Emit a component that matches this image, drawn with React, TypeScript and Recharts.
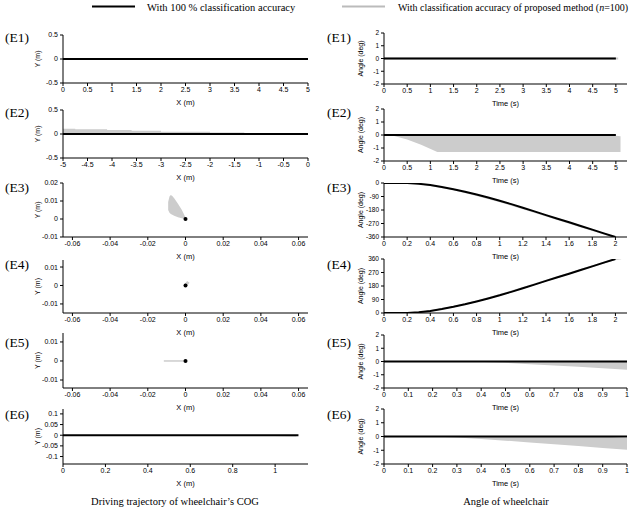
import React from "react";
import { ComposedChart, Line, Area, Scatter, XAxis, YAxis } from "recharts";

const GREY = "#cccccc";
const SANS = "'Liberation Sans', Arial, sans-serif";
const SERIF = "'Liberation Serif', 'Times New Roman', serif";

const rowLabels = ["(E1)", "(E2)", "(E3)", "(E4)", "(E5)", "(E6)"];
const rowLabelY = [37, 112, 187, 264, 342, 414];

// ---- Driving trajectory of wheelchair's COG (left column) ----
const e1PathX = [0, 5];
const e1PathY = [0, 0];

const e2PathX = [-5, 0];
const e2PathY = [0, 0];
const e2SpreadX = [-5, -4.75, -4.1, -3.6, -3.0, -2.0, -1.3, -0.6];
const e2SpreadLo = [0, 0, 0, 0, 0, 0, 0, 0];
const e2SpreadHi = [0.11, 0.1, 0.085, 0.068, 0.048, 0.03, 0.012, 0.002];

const e3SpreadX = [-0.0092, -0.0085, -0.0078, -0.007, -0.006, -0.004, -0.002, -0.001, 0];
const e3SpreadLo = [0.005, 0.0035, 0.0028, 0.0023, 0.0018, 0.001, 0.0004, 0.0001, 0];
const e3SpreadHi = [0.0095, 0.0125, 0.0134, 0.0128, 0.0115, 0.0085, 0.0052, 0.003, 0.0008];

const e4GreyX = [0, 0.0015];
const e4GreyY = [0, 0.002];

const e5GreyX = [-0.0115, 0];
const e5GreyY = [0, 0];

const origin = [{ x: 0, y: 0 }];

const e6PathX = [0, 1.11];
const e6PathY = [0, 0];
const e6SpreadX = [0.75, 0.9, 1.0, 1.1];
const e6SpreadLo = [0, -0.002, -0.004, -0.006];
const e6SpreadHi = [0, 0, 0, 0];

// ---- Angle of wheelchair (right column) ----
const a1PathX = [0, 5];
const a1PathY = [0, 0];
const a1GreyX = [0, 5.05];
const a1GreyY = [0, 0];

const a2PathX = [0, 5];
const a2PathY = [0, 0];
const a2SpreadX = [0, 0.2, 0.5, 0.8, 1.15, 5.0, 5.1];
const a2SpreadLo = [0, -0.05, -0.35, -0.75, -1.3, -1.3, -1.3];
const a2SpreadHi = [0, 0, 0, 0, 0, -0.05, -0.1];

const a3Time = [0, 0.2, 0.3, 0.4, 0.5, 0.6, 0.7, 0.8, 0.9, 1.0, 1.1, 1.2, 1.3, 1.4, 1.5, 1.6, 1.7, 1.8, 1.9, 2.0];
const a3Angle = [0, 0, -5, -14, -26, -41, -58, -77, -97, -118, -141, -165, -189, -214, -238, -262, -287, -311, -336, -360];
const a3SpreadX = [0.25, 0.4, 0.6, 0.8, 1.0, 1.2, 1.4, 1.6, 1.8, 2.0, 2.05];
const a3SpreadLo = [-4, -20, -49, -86, -128, -175, -224, -272, -320, -368, -368];
const a3SpreadHi = [-1, -12, -39, -75, -116, -163, -212, -260, -309, -356, -362];

const a4Time = [0, 0.2, 0.3, 0.4, 0.5, 0.6, 0.7, 0.8, 0.9, 1.0, 1.1, 1.2, 1.3, 1.4, 1.5, 1.6, 1.7, 1.8, 1.9, 2.0];
const a4Angle = [0, 0, 5, 14, 26, 41, 58, 77, 97, 118, 141, 165, 189, 214, 238, 262, 287, 311, 336, 360];
const a4SpreadX = [0.18, 0.3, 0.4, 0.6, 0.8, 1.0, 1.2, 1.4, 1.6, 1.8, 2.0, 2.05];
const a4SpreadLo = [0, 1, 10, 37, 73, 114, 161, 210, 258, 307, 354, 358];
const a4SpreadHi = [2, 6, 18, 47, 84, 126, 173, 222, 270, 318, 366, 366];

const a5PathX = [0, 1];
const a5PathY = [0, 0];
const a5SpreadX = [0.35, 0.5, 0.6, 0.7, 0.8, 0.9, 1.0];
const a5SpreadLo = [0, -0.1, -0.2, -0.3, -0.4, -0.5, -0.63];
const a5SpreadHi = [0, 0, 0, 0, 0, 0, 0];

const a6PathX = [0, 1];
const a6PathY = [0, 0];
const a6SpreadX = [0.2, 0.3, 0.4, 0.5, 0.6, 0.7, 0.8, 0.9, 1.0];
const a6SpreadLo = [0, -0.08, -0.18, -0.3, -0.43, -0.56, -0.69, -0.83, -0.97];
const a6SpreadHi = [0, 0, 0, 0, 0, 0, 0, 0, -0.1];

// ticks
const ticksX5 = [0, 0.5, 1, 1.5, 2, 2.5, 3, 3.5, 4, 4.5, 5];
const ticksXNeg5 = [-5, -4.5, -4, -3.5, -3, -2.5, -2, -1.5, -1, -0.5, 0];
const ticksXSmall = [-0.06, -0.04, -0.02, 0, 0.02, 0.04, 0.06];
const ticksX1 = [0, 0.2, 0.4, 0.6, 0.8, 1];
const ticksT2 = [0, 0.2, 0.4, 0.6, 0.8, 1, 1.2, 1.4, 1.6, 1.8, 2];
const ticksT1 = [0, 0.1, 0.2, 0.3, 0.4, 0.5, 0.6, 0.7, 0.8, 0.9, 1];
const ticksYHalf = [-0.5, 0, 0.5];
const ticksYE3 = [-0.01, 0, 0.01, 0.02];
const ticksYCm = [-0.01, 0, 0.01];
const ticksYE6 = [-0.1, -0.05, 0, 0.05, 0.1];
const ticksAngle2 = [-2, -1, 0, 1, 2];
const ticksAngleNeg = [-360, -270, -180, -90, 0];
const ticksAnglePos = [0, 90, 180, 270, 360];

type Series = { key: string; xs: number[]; ys: any[] };

function buildRows(series: Series[]) {
  const map = new Map<number, any>();
  series.forEach((s) =>
    s.xs.forEach((x, i) => {
      const row = map.get(x) ?? { x };
      row[s.key] = s.ys[i];
      map.set(x, row);
    })
  );
  return [...map.values()].sort((a, b) => a.x - b.x);
}

const zip = (lo: number[], hi: number[]) => lo.map((v, i) => [v, hi[i]]);

const YW = 40;
const XH = 25;
const RP = 12;

interface PanelProps {
  left: number;
  top: number;
  w: number;
  h: number;
  xDomain: [number, number];
  xTicks: number[];
  yDomain: [number, number];
  yTicks: number[];
  xLabel: string;
  yLabel: string;
  yLabelOffset: number;
  yTickSize?: number;
  rows: any[];
  bandStep?: boolean;
  greyWidth?: number;
  dot?: boolean;
}

function Panel(p: PanelProps) {
  const hasBand = p.rows.some((r) => r.band !== undefined);
  const hasGrey = p.rows.some((r) => r.grey !== undefined);
  const hasBlack = p.rows.some((r) => r.y !== undefined);
  const xTickStyle = { fontSize: 7, fill: "#000", fontFamily: SANS };
  const yTickStyle = { fontSize: p.yTickSize ?? 7, fill: "#000", fontFamily: SANS };
  return (
    <div style={{ position: "absolute", left: p.left - YW, top: p.top - 5 }}>
      <ComposedChart
        width={YW + p.w + RP}
        height={5 + p.h + XH}
        data={p.rows}
        margin={{ top: 5, right: RP, left: 0, bottom: 0 }}
      >
        <XAxis
          type="number"
          dataKey="x"
          domain={p.xDomain}
          ticks={p.xTicks}
          interval={0}
          allowDataOverflow
          height={XH}
          tickSize={3}
          tickMargin={1}
          axisLine={{ stroke: "#000" }}
          tickLine={{ stroke: "#000" }}
          tick={xTickStyle}
          label={{ value: p.xLabel, position: "insideBottom", offset: 3, fontSize: 7.5, fill: "#000", fontFamily: SANS }}
        />
        <YAxis
          type="number"
          domain={p.yDomain}
          ticks={p.yTicks}
          interval={0}
          allowDataOverflow
          width={YW}
          tickSize={3}
          tickMargin={2}
          axisLine={{ stroke: "#000" }}
          tickLine={{ stroke: "#000" }}
          tick={yTickStyle}
          label={{
            value: p.yLabel,
            angle: -90,
            position: "insideLeft",
            offset: p.yLabelOffset,
            fontSize: 7,
            fill: "#000",
            fontFamily: SANS,
            style: { textAnchor: "middle" },
          }}
        />
        {hasBand && (
          <Area
            dataKey="band"
            type={p.bandStep ? "stepAfter" : "linear"}
            fill={GREY}
            fillOpacity={1}
            stroke="none"
            connectNulls
            isAnimationActive={false}
          />
        )}
        {hasGrey && (
          <Line
            dataKey="grey"
            stroke={GREY}
            strokeWidth={p.greyWidth ?? 2}
            dot={false}
            connectNulls
            isAnimationActive={false}
          />
        )}
        {hasBlack && (
          <Line dataKey="y" stroke="#000" strokeWidth={2} dot={false} connectNulls isAnimationActive={false} />
        )}
        {p.dot && (
          <Scatter
            data={origin}
            dataKey="y"
            isAnimationActive={false}
            shape={(s: any) => <circle cx={s.cx} cy={s.cy} r={2} fill="#000" />}
          />
        )}
      </ComposedChart>
    </div>
  );
}

const LX = 63;
const LW = 245;
const RX = 384;
const RW = 243;

export default function App() {
  return (
    <div style={{ position: "absolute", left: 0, top: 0, width: 638, height: 512, background: "#fff" }}>
      <svg width={638} height={512} style={{ position: "absolute", left: 0, top: 0 }}>
        <line x1={92} x2={135} y1={6.5} y2={6.5} stroke="#000" strokeWidth={2} />
        <text x={147} y={7} fontSize={10.5} fontFamily={SERIF} dominantBaseline="central">
          With 100 % classification accuracy
        </text>
        <line x1={342} x2={385} y1={6.5} y2={6.5} stroke="#bbbbbb" strokeWidth={2} />
        <text x={398} y={7} fontSize={10} fontFamily={SERIF} dominantBaseline="central">
          With classification accuracy of proposed method (<tspan fontStyle="italic">n</tspan>=100)
        </text>
        {rowLabels.map((t, i) => (
          <React.Fragment key={t}>
            <text x={5} y={rowLabelY[i]} fontSize={13.5} fontFamily={SERIF} dominantBaseline="central">
              {t}
            </text>
            <text x={327} y={rowLabelY[i]} fontSize={13.5} fontFamily={SERIF} dominantBaseline="central">
              {t}
            </text>
          </React.Fragment>
        ))}
        <text x={175} y={501} fontSize={10.5} fontFamily={SERIF} textAnchor="middle" dominantBaseline="central">
          Driving trajectory of wheelchair’s COG
        </text>
        <text x={506} y={501} fontSize={10.5} fontFamily={SERIF} textAnchor="middle" dominantBaseline="central">
          Angle of wheelchair
        </text>
      </svg>

      {/* Driving trajectory of wheelchair's COG */}
      <Panel left={LX} top={35} w={LW} h={48} xDomain={[0, 5]} xTicks={ticksX5} yDomain={[-0.5, 0.5]} yTicks={ticksYHalf}
        xLabel="X (m)" yLabel="Y (m)" yLabelOffset={15}
        rows={buildRows([{ key: "y", xs: e1PathX, ys: e1PathY }])} />
      <Panel left={LX} top={110} w={LW} h={48} xDomain={[-5, 0]} xTicks={ticksXNeg5} yDomain={[-0.5, 0.5]} yTicks={ticksYHalf}
        xLabel="X (m)" yLabel="Y (m)" yLabelOffset={15} bandStep
        rows={buildRows([
          { key: "band", xs: e2SpreadX, ys: zip(e2SpreadLo, e2SpreadHi) },
          { key: "y", xs: e2PathX, ys: e2PathY },
        ])} />
      <Panel left={LX} top={183} w={LW} h={54} xDomain={[-0.065, 0.065]} xTicks={ticksXSmall} yDomain={[-0.01, 0.02]} yTicks={ticksYE3}
        xLabel="X (m)" yLabel="Y (m)" yLabelOffset={15} dot
        rows={buildRows([{ key: "band", xs: e3SpreadX, ys: zip(e3SpreadLo, e3SpreadHi) }])} />
      <Panel left={LX} top={260} w={LW} h={53} xDomain={[-0.065, 0.065]} xTicks={ticksXSmall} yDomain={[-0.0149, 0.0138]} yTicks={ticksYCm}
        xLabel="X (m)" yLabel="Y (m)" yLabelOffset={15} dot greyWidth={3}
        rows={buildRows([{ key: "grey", xs: e4GreyX, ys: e4GreyY }])} />
      <Panel left={LX} top={333} w={LW} h={55} xDomain={[-0.065, 0.065]} xTicks={ticksXSmall} yDomain={[-0.0142, 0.0147]} yTicks={ticksYCm}
        xLabel="X (m)" yLabel="Y (m)" yLabelOffset={15} dot greyWidth={1.5}
        rows={buildRows([{ key: "grey", xs: e5GreyX, ys: e5GreyY }])} />
      <Panel left={LX} top={409} w={LW} h={55} xDomain={[0, 1.155]} xTicks={ticksX1} yDomain={[-0.135, 0.123]} yTicks={ticksYE6}
        xLabel="X (m)" yLabel="Y (m)" yLabelOffset={15}
        rows={buildRows([
          { key: "band", xs: e6SpreadX, ys: zip(e6SpreadLo, e6SpreadHi) },
          { key: "y", xs: e6PathX, ys: e6PathY },
        ])} />

      {/* Angle of wheelchair */}
      <Panel left={RX} top={33} w={RW} h={51} xDomain={[0, 5.24]} xTicks={ticksX5} yDomain={[-2, 2]} yTicks={ticksAngle2}
        xLabel="Time (s)" yLabel="Angle (deg)" yLabelOffset={17} yTickSize={6.5}
        rows={buildRows([
          { key: "grey", xs: a1GreyX, ys: a1GreyY },
          { key: "y", xs: a1PathX, ys: a1PathY },
        ])} />
      <Panel left={RX} top={109} w={RW} h={52} xDomain={[0, 5.24]} xTicks={ticksX5} yDomain={[-2, 2]} yTicks={ticksAngle2}
        xLabel="Time (s)" yLabel="Angle (deg)" yLabelOffset={17} yTickSize={6.5}
        rows={buildRows([
          { key: "band", xs: a2SpreadX, ys: zip(a2SpreadLo, a2SpreadHi) },
          { key: "y", xs: a2PathX, ys: a2PathY },
        ])} />
      <Panel left={RX} top={183} w={RW} h={54} xDomain={[0, 2.1]} xTicks={ticksT2} yDomain={[-360, 0]} yTicks={ticksAngleNeg}
        xLabel="Time (s)" yLabel="Angle (deg)" yLabelOffset={17} yTickSize={6.5}
        rows={buildRows([
          { key: "band", xs: a3SpreadX, ys: zip(a3SpreadLo, a3SpreadHi) },
          { key: "y", xs: a3Time, ys: a3Angle },
        ])} />
      <Panel left={RX} top={259} w={RW} h={54} xDomain={[0, 2.1]} xTicks={ticksT2} yDomain={[0, 360]} yTicks={ticksAnglePos}
        xLabel="Time (s)" yLabel="Angle (deg)" yLabelOffset={17} yTickSize={6.5}
        rows={buildRows([
          { key: "band", xs: a4SpreadX, ys: zip(a4SpreadLo, a4SpreadHi) },
          { key: "y", xs: a4Time, ys: a4Angle },
        ])} />
      <Panel left={RX} top={335} w={RW} h={53} xDomain={[0, 1]} xTicks={ticksT1} yDomain={[-2, 2]} yTicks={ticksAngle2}
        xLabel="Time (s)" yLabel="Angle (deg)" yLabelOffset={17} yTickSize={6.5}
        rows={buildRows([
          { key: "band", xs: a5SpreadX, ys: zip(a5SpreadLo, a5SpreadHi) },
          { key: "y", xs: a5PathX, ys: a5PathY },
        ])} />
      <Panel left={RX} top={409} w={RW} h={55} xDomain={[0, 1]} xTicks={ticksT1} yDomain={[-2, 2]} yTicks={ticksAngle2}
        xLabel="Time (s)" yLabel="Angle (deg)" yLabelOffset={17} yTickSize={6.5}
        rows={buildRows([
          { key: "band", xs: a6SpreadX, ys: zip(a6SpreadLo, a6SpreadHi) },
          { key: "y", xs: a6PathX, ys: a6PathY },
        ])} />
    </div>
  );
}
